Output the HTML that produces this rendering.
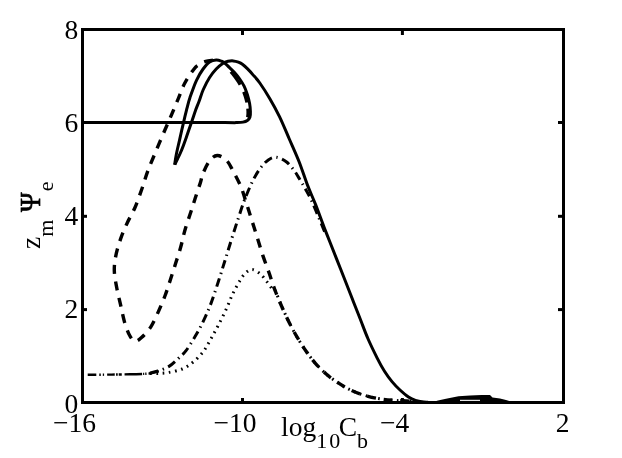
<!DOCTYPE html>
<html><head><meta charset="utf-8"><title>fig</title>
<style>
html,body{margin:0;padding:0;background:#fff;}
body{width:622px;height:458px;overflow:hidden;position:relative;font-family:"Liberation Serif",serif;}
svg{position:absolute;left:0;top:0;filter:grayscale(1);}
text{font-family:"Liberation Serif",serif;fill:#000;}
</style></head><body>
<svg width="622" height="458" viewBox="0 0 622 458">
<rect x="0" y="0" width="622" height="458" fill="#fff"/>
<g fill="none" stroke="#000" stroke-width="3" stroke-linejoin="round">
<path d="M82.5,122.5C93.8,122.5 126.2,122.5 150.0,122.5C173.8,122.5 210.7,122.6 225.0,122.6C239.3,122.6 232.9,122.7 235.9,122.6C238.9,122.5 241.1,122.5 243.0,122.1C244.9,121.7 246.2,121.2 247.4,120.4C248.6,119.6 249.4,118.7 249.9,117.2C250.4,115.7 250.5,113.5 250.4,111.2C250.3,108.9 250.1,106.3 249.6,103.6C249.1,100.9 248.3,97.7 247.4,94.8C246.5,91.9 245.4,88.7 244.1,86.1C242.8,83.5 241.3,81.3 239.7,79.0C238.1,76.7 236.2,74.4 234.5,72.5C232.8,70.6 230.8,68.9 229.3,67.4C227.8,66.0 226.8,64.8 225.5,63.8C224.2,62.8 223.1,61.8 221.5,61.2C219.9,60.6 218.2,59.9 216.2,60.0C214.2,60.1 211.8,60.5 209.6,62.0C207.4,63.5 205.3,66.0 203.1,69.0C200.9,72.0 198.7,75.6 196.5,80.3C194.3,85.0 191.6,92.8 190.0,97.4C188.4,102.1 188.0,104.2 187.0,108.2C186.0,112.2 185.0,116.1 183.8,121.3C182.6,126.5 180.9,133.8 179.7,139.3C178.5,144.8 177.2,149.8 176.4,154.1C175.6,158.3 174.9,163.0 174.6,164.8"/>
<path d="M174.8,164.8C175.2,163.8 176.4,161.3 177.5,159.0C178.6,156.7 179.9,154.4 181.3,150.8C182.8,147.2 184.6,142.3 186.2,137.7C187.8,133.1 189.5,127.9 191.1,123.4C192.7,118.9 194.2,114.2 195.5,110.5C196.8,106.8 197.7,105.0 199.0,101.5C200.3,98.0 201.5,93.5 203.3,89.5C205.1,85.5 207.4,80.9 209.6,77.5C211.8,74.1 214.0,71.3 216.2,69.0C218.4,66.7 220.7,64.7 222.7,63.4C224.7,62.1 226.2,61.7 228.0,61.3C229.8,60.9 231.5,60.8 233.2,60.9C234.9,61.0 236.9,61.6 238.4,62.2C239.9,62.8 240.9,63.2 242.4,64.3C243.9,65.4 245.9,67.2 247.6,68.9C249.3,70.6 250.8,72.2 252.8,74.6C254.8,76.9 257.0,79.0 259.8,83.0C262.6,87.0 266.4,92.8 269.7,98.4C273.0,104.0 276.2,109.8 279.5,116.6C282.8,123.4 286.0,131.4 289.3,139.0C292.6,146.6 296.2,154.3 299.2,162.0C302.2,169.7 304.7,177.8 307.4,184.9C310.1,192.0 312.8,197.5 315.6,204.6C318.4,211.7 321.8,221.3 324.2,227.5C326.6,233.7 327.2,235.2 329.9,242.0C332.6,248.8 336.9,259.7 340.4,268.5C343.9,277.3 348.5,289.1 350.7,294.7C352.9,300.3 351.8,297.6 353.5,302.0C355.2,306.4 358.6,314.8 361.0,321.0C363.4,327.2 365.4,332.8 368.1,339.0C370.8,345.2 374.5,352.7 377.2,358.1C379.9,363.5 382.0,367.3 384.5,371.2C387.0,375.1 389.4,378.5 392.0,381.6C394.6,384.7 397.2,387.4 400.0,390.0C402.8,392.6 405.9,395.3 408.5,397.0C411.1,398.7 413.2,399.6 415.5,400.4C417.8,401.2 419.9,401.5 422.0,401.8C424.1,402.1 427.0,402.2 428.0,402.3"/>
<path d="M213.0,60.2C211.8,60.4 208.0,60.7 205.7,61.4C203.4,62.1 201.0,63.3 199.0,64.6C197.0,65.9 196.3,66.1 193.9,69.2C191.5,72.3 187.3,78.2 184.7,83.2C182.1,88.2 180.4,93.7 178.2,98.9C176.0,104.1 173.8,109.4 171.6,114.6C169.4,119.8 167.5,123.9 164.9,130.0C162.3,136.1 158.8,144.2 156.0,151.0C153.2,157.8 150.3,164.2 147.9,170.7C145.5,177.2 143.7,183.9 141.5,190.0C139.3,196.1 137.4,202.0 135.0,207.5C132.6,213.0 129.5,218.0 127.1,223.2C124.7,228.4 122.5,233.4 120.6,238.9C118.7,244.4 116.8,250.7 115.8,255.9C114.8,261.1 114.2,265.1 114.3,270.3C114.4,275.5 115.5,281.2 116.6,287.0C117.6,292.8 119.3,299.1 120.6,304.9C121.9,310.7 123.0,316.8 124.5,321.9C126.0,327.0 127.9,332.3 129.7,335.5C131.4,338.7 133.0,340.8 135.0,341.2C137.0,341.6 138.9,340.0 141.5,337.6C144.1,335.2 147.9,331.5 150.7,327.1C153.5,322.7 156.1,316.7 158.5,311.4C160.9,306.1 163.1,300.7 165.1,295.5C167.1,290.3 168.6,285.3 170.3,280.0C172.0,274.7 173.8,269.3 175.5,263.8C177.2,258.3 179.3,252.3 180.8,246.8C182.3,241.3 183.2,236.4 184.7,231.0C186.2,225.6 188.2,219.9 190.0,214.5C191.8,209.1 193.5,203.6 195.2,198.3C196.9,193.0 199.1,186.7 200.4,182.6C201.7,178.5 201.3,177.6 202.8,174.0C204.3,170.4 207.0,164.1 209.4,161.0C211.8,157.9 214.4,155.6 217.2,155.5C220.0,155.4 223.8,157.7 226.4,160.2C229.0,162.7 230.5,166.3 232.9,170.7C235.3,175.1 238.6,181.2 240.8,186.4C243.0,191.6 244.5,197.5 246.0,202.0C247.5,206.5 248.0,208.2 249.7,213.6C251.4,219.0 254.1,227.5 256.3,234.5C258.5,241.5 260.6,248.8 262.8,255.4C265.0,261.9 267.4,268.0 269.4,273.8C271.4,279.6 272.9,284.7 274.9,290.0C276.9,295.3 279.0,300.2 281.4,305.7C283.8,311.1 286.7,317.5 289.3,322.7C291.9,327.9 294.3,332.3 297.1,337.1C299.9,341.9 303.2,347.1 306.3,351.5C309.4,355.9 312.1,359.6 315.4,363.3C318.7,367.0 322.4,370.8 325.9,373.8C329.4,376.9 332.5,379.0 336.4,381.6C340.3,384.2 345.1,387.3 349.5,389.5C353.9,391.7 357.8,393.2 362.6,394.7C367.4,396.2 372.6,397.6 378.3,398.6C384.0,399.6 389.7,400.0 396.6,400.5C403.6,401.0 416.1,401.4 420.0,401.6" stroke-width="3.4" stroke-dasharray="9 7.7"/>
<path d="M150.0,372.9C151.3,372.6 154.8,372.1 158.0,371.0C161.2,369.9 165.6,368.5 169.0,366.4C172.4,364.3 175.4,361.1 178.2,358.5C181.0,355.9 183.2,354.4 186.0,350.7C188.8,347.0 192.4,341.1 195.2,336.3C198.0,331.5 200.4,327.3 203.0,321.9C205.6,316.4 208.3,310.5 210.9,303.6C213.5,296.7 216.3,287.9 218.7,280.5C221.1,273.1 223.1,266.5 225.3,259.5C227.5,252.5 229.6,245.4 231.8,238.5C234.0,231.6 236.2,224.5 238.4,218.0C240.6,211.5 242.3,205.6 244.7,199.5C247.1,193.4 250.0,186.4 252.6,181.2C255.2,176.0 257.8,171.6 260.4,168.1C263.0,164.6 265.7,161.7 268.3,159.9C270.9,158.1 273.1,157.0 276.2,157.3C279.2,157.7 283.6,159.7 286.6,162.0C289.7,164.3 292.4,168.3 294.5,171.0C296.6,173.7 297.3,175.3 299.2,178.4C301.1,181.5 303.6,185.7 305.7,189.5C307.8,193.3 309.7,196.6 311.9,201.3C314.1,206.1 316.6,212.6 318.9,218.0C321.2,223.4 324.5,231.3 325.6,234.0" stroke-dasharray="8.7 4.5 1.4 4.5"/>
<path d="M150.0,373.6C151.7,373.6 156.8,373.5 160.0,373.3C163.2,373.1 165.3,373.1 169.0,372.4C172.7,371.7 178.2,370.6 182.1,369.0C186.0,367.4 189.1,365.3 192.6,362.5C196.1,359.7 199.9,355.9 203.0,352.0C206.1,348.1 208.3,343.5 210.9,338.9C213.5,334.3 216.1,329.5 218.7,324.5C221.3,319.5 224.1,313.9 226.4,308.8C228.7,303.7 230.4,298.7 232.7,294.0C235.0,289.3 237.8,284.1 240.0,280.5C242.2,276.9 243.9,274.3 246.0,272.5C248.1,270.7 249.9,269.4 252.3,269.6C254.7,269.8 257.8,271.8 260.2,273.8C262.6,275.8 264.8,279.2 266.8,281.6C268.8,284.1 270.6,287.1 272.0,288.5C273.4,289.9 273.3,287.1 274.9,290.0C276.5,292.9 279.0,300.2 281.4,305.7C283.8,311.1 286.7,317.5 289.3,322.7C291.9,327.9 294.3,332.3 297.1,337.1C299.9,341.9 303.2,347.1 306.3,351.5C309.4,355.9 312.1,359.6 315.4,363.3C318.7,367.0 322.4,370.8 325.9,373.8C329.4,376.9 332.5,379.0 336.4,381.6C340.3,384.2 345.1,387.3 349.5,389.5C353.9,391.7 357.8,393.2 362.6,394.7C367.4,396.2 372.6,397.6 378.3,398.6C384.0,399.6 389.7,400.0 396.6,400.5C403.6,401.0 416.1,401.4 420.0,401.6" stroke-dasharray="1.7 4.6"/>
<path d="M227.5,68.0C228.3,68.9 230.8,71.6 232.4,73.6C234.0,75.6 235.8,77.9 237.3,80.2C238.9,82.5 240.4,85.0 241.7,87.5C243.0,90.0 244.1,92.7 245.0,95.4C245.9,98.1 246.7,101.2 247.2,103.8C247.7,106.4 247.9,109.1 248.0,111.2C248.1,113.3 248.0,115.2 247.7,116.6C247.4,118.0 246.3,119.0 246.0,119.5" stroke-width="3.2" stroke-dasharray="0 5 16 8 11 6 9 100"/>
<path d="M87.7,374.8C91.4,374.8 103.0,374.7 110.0,374.6C117.0,374.5 124.1,374.4 130.0,374.3C135.9,374.2 141.7,374.0 145.4,373.8C149.1,373.6 149.6,373.5 152.0,373.0C154.4,372.5 158.7,371.2 160.0,370.8" stroke-width="2.4" stroke-dasharray="8.7 2.9 1.5 2 1.3 2.9 7.7 1.3 1.7 1 3 2.7 17.4 1 1.2 1.2 1.2 2.1 10.5 100"/>
</g>
<!-- small hump near C_b ~ 1e-1 -->
<path d="M433,402 L438,400.4 L446,398.7 L458.5,396.2 L470,395.4 L481.5,394.9 L490,394.9 L492.5,397.4 L500,398.5 L506,400 L512,402 Z" fill="#000"/>
<rect x="460" y="399.8" width="20" height="1.1" fill="#fff"/>
<!-- axes box -->
<rect x="82.5" y="29.5" width="481.0" height="373.0" fill="none" stroke="#000" stroke-width="3"/>
<g fill="#000"><rect x="241.0" y="398.0" width="3" height="3.5"/><rect x="241.0" y="30.5" width="3" height="4.5"/><rect x="400.9" y="398.0" width="3" height="3.5"/><rect x="400.9" y="30.5" width="3" height="4.5"/><rect x="83.5" y="121.0" width="3.5" height="3"/><rect x="558.0" y="121.0" width="4.5" height="3"/><rect x="83.5" y="214.8" width="3.5" height="3"/><rect x="558.0" y="214.8" width="4.5" height="3"/><rect x="83.5" y="308.1" width="3.5" height="3"/><rect x="558.0" y="308.1" width="4.5" height="3"/></g>
<g font-size="27.5">
<text x="78.3" y="38.6" text-anchor="end">8</text>
<text x="78.3" y="131.8" text-anchor="end">6</text>
<text x="78.3" y="225.2" text-anchor="end">4</text>
<text x="78.3" y="318.4" text-anchor="end">2</text>
<text x="78.3" y="412.5" text-anchor="end">0</text>
<text x="53" y="432">−16</text>
<text x="213.5" y="432">−10</text>
<text x="380" y="432">−4</text>
<text x="555.8" y="432">2</text>
<text x="281" y="435.5">log<tspan font-size="22" dy="12.5">1</tspan><tspan font-size="22" dx="2">0</tspan><tspan dy="-12.5" dx="-1.5">C</tspan><tspan font-size="22" dy="12.5" dx="0">b</tspan></text>
<text transform="translate(39.5,249) rotate(-90)" x="0" y="0">z<tspan font-size="22" dy="13">m</tspan><tspan dy="-13" dx="7.7" font-size="29" stroke="#000" stroke-width="0.7" textLength="19.5" lengthAdjust="spacingAndGlyphs">Ψ</tspan><tspan font-size="22" dy="13" dx="1.1">e</tspan></text>
</g>
</svg>
</body></html>
